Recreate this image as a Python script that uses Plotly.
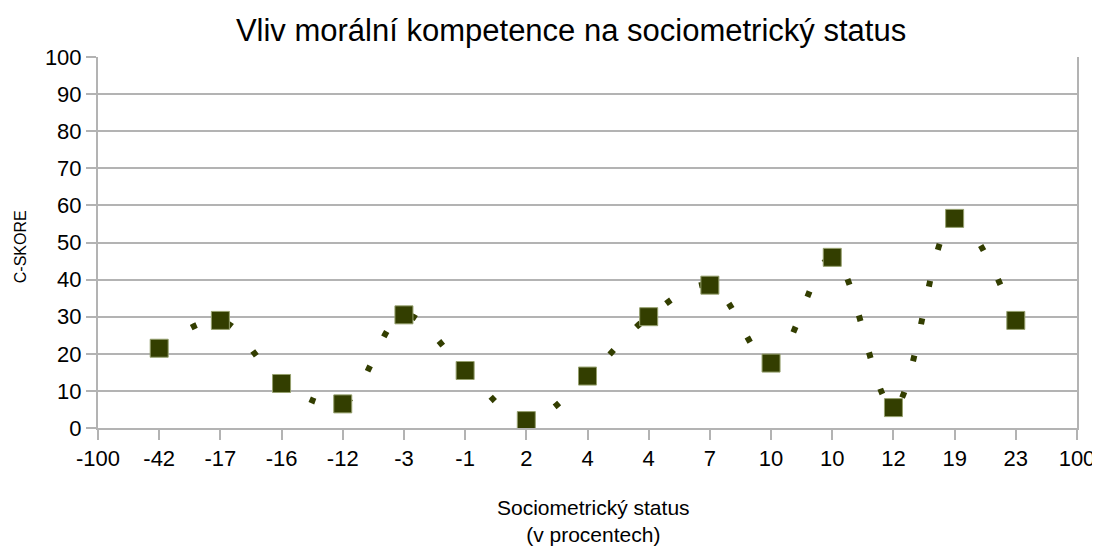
import plotly.graph_objects as go

# Sociometric status categories (axis labels) and C-score values
status_labels = ['-100', '-42', '-17', '-16', '-12', '-3', '-1', '2', '4', '4',
                 '7', '10', '10', '12', '19', '23', '100']
point_pos = list(range(1, 16))
c_score = [21.5, 29, 12, 6.5, 30.5, 15.5, 2, 14, 30, 38.5, 17.5, 46, 5.5, 56.5, 29]

green = 'rgb(51,62,0)'
grid = 'rgb(179,179,179)'
font = 'Liberation Sans, Arial, sans-serif'

fig = go.Figure()
fig.add_trace(go.Scatter(
    x=point_pos, y=c_score, mode='lines',
    line=dict(color=green, width=6, dash='6px,32px', shape='spline', smoothing=1),
    hoverinfo='skip', showlegend=False
))
fig.add_trace(go.Scatter(
    x=point_pos, y=c_score, mode='markers',
    marker=dict(symbol='square', size=18, color=green,
                line=dict(color='rgb(150,160,110)', width=1)),
    showlegend=False
))

# page has an 8px body margin, so the figure is a bit smaller than the window
fig.update_layout(
    width=1092, height=539,
    paper_bgcolor='white', plot_bgcolor='white',
    margin=dict(l=90, r=23, t=49, b=119, autoexpand=False),
    font=dict(family=font, color='black'),
    title=dict(text='Vliv morální kompetence na sociometrický status',
               x=0.5156, xanchor='center', y=0.959, yanchor='middle',
               font=dict(size=31, family=font)),
    xaxis=dict(
        range=[0, 16], tickmode='array', tickvals=list(range(17)), ticktext=status_labels,
        showgrid=False, zeroline=False, showline=True, linecolor=grid, linewidth=2,
        ticks='outside', ticklen=10, tickcolor=grid, tickwidth=2,
        tickfont=dict(size=22)
    ),
    yaxis=dict(
        range=[0, 100], tickmode='linear', tick0=0, dtick=10,
        showgrid=True, gridcolor=grid, gridwidth=1.5, zeroline=False,
        showline=True, linecolor=grid, linewidth=2, mirror=True,
        ticks='outside', ticklen=10, tickcolor=grid, tickwidth=2,
        tickfont=dict(size=22)
    ),
    annotations=[
        dict(text='Sociometrický status<br>(v procentech)', xref='paper', yref='paper',
             x=0.5064, y=-0.2507, xanchor='center', yanchor='middle', showarrow=False,
             font=dict(size=21)),
        dict(text='C-SKORE', xref='paper', yref='paper', textangle=-90,
             x=-0.0797, y=0.49, xanchor='center', yanchor='middle', showarrow=False,
             font=dict(size=16)),
    ]
)

fig.write_html('out.html')
